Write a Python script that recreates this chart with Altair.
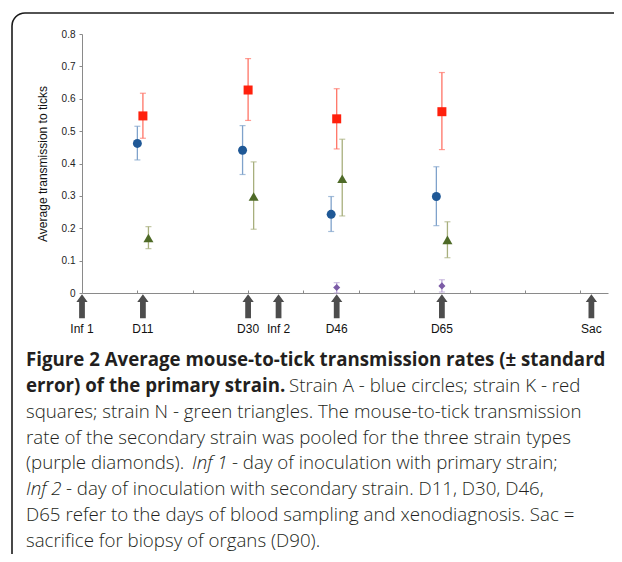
import altair as alt
import pandas as pd

# ---------------- data ----------------
blue_x = [10, 29, 45, 64]
blue_v = [0.462, 0.441, 0.243, 0.298]
blue_lo = [0.411, 0.366, 0.190, 0.208]
blue_hi = [0.515, 0.517, 0.298, 0.390]

red_x = [11, 30, 46, 65]
red_v = [0.547, 0.627, 0.538, 0.560]
red_lo = [0.478, 0.533, 0.445, 0.443]
red_hi = [0.617, 0.724, 0.631, 0.681]

green_x = [12, 31, 47, 66]
green_v = [0.170, 0.298, 0.353, 0.164]
green_lo = [0.137, 0.197, 0.238, 0.109]
green_hi = [0.205, 0.405, 0.475, 0.220]

purple_x = [46, 65]
purple_v = [0.017, 0.022]
purple_lo = [0.0, 0.003]
purple_hi = [0.032, 0.041]

event_labels = ["Inf 1", "D11", "D30", "Inf 2", "D46", "D65", "Sac"]
event_days = [0, 11, 30, 35.5, 46, 65, 92]

y_ticks = [0, 0.1, 0.2, 0.3, 0.4, 0.5, 0.6, 0.7, 0.8]
x_ticks = [10, 20, 30, 40, 50, 60, 70, 80, 90]

y_title = "Average transmission to ticks"

caption_bold = [
    "Figure 2 Average mouse-to-tick transmission rates (\u00b1 standard",
    "error) of the primary strain.",
]
caption_regular = [
    "Strain A - blue circles; strain K - red",
    "squares; strain N - green triangles. The mouse-to-tick transmission",
    "rate of the secondary strain was pooled for the three strain types",
    "(purple diamonds).",
    "- day of inoculation with primary strain;",
    "- day of inoculation with secondary strain. D11, D30, D46,",
    "D65 refer to the days of blood sampling and xenodiagnosis. Sac =",
    "sacrifice for biopsy of organs (D90).",
]
caption_italic = ["Inf 1", "Inf 2"]

# ---------------- layout ----------------
W, H = 526, 259
PAD = {"left": 74, "top": 26, "right": 6, "bottom": 261}
LINE0 = 331.8
LEAD = 25.9
CX = -56
FS = 18.7

def base_y(i):
    return LINE0 + LEAD * i

# (text, x, line index, weight, style)
segments = [
    (caption_bold[0], CX, 0, "bold", "normal"),
    (caption_bold[1], CX, 1, "bold", "normal"),
    (caption_regular[0], 207, 1, 300, "normal"),
    (caption_regular[1], CX, 2, 300, "normal"),
    (caption_regular[2], CX, 3, 300, "normal"),
    (caption_regular[3], CX, 4, 300, "normal"),
    (caption_italic[0], 110, 4, 300, "italic"),
    (caption_regular[4], 150, 4, 300, "normal"),
    (caption_italic[1], CX, 5, 300, "italic"),
    (caption_regular[5], -16, 5, 300, "normal"),
    (caption_regular[6], CX, 6, 300, "normal"),
    (caption_regular[7], CX, 7, 300, "normal"),
]

xscale = alt.Scale(domain=[0, 95], nice=False, zero=False)
yscale = alt.Scale(domain=[0, 0.8], nice=False)

xaxis = alt.Axis(orient="top", offset=-H, labels=False, values=x_ticks,
                 tickSize=3, domainColor="#8a8a8a", tickColor="#8a8a8a",
                 title=None, grid=False)
yaxis = alt.Axis(values=y_ticks, format=".1~f", tickSize=3, labelPadding=4,
                 labelOverlap=False,
                 labelFont="Liberation Sans", labelFontSize=10,
                 labelColor="#222222", domainColor="#8a8a8a",
                 tickColor="#8a8a8a", grid=False, title=y_title,
                 titleFont="Liberation Sans", titleFontSize=12,
                 titleFontWeight="normal", titleColor="#111111",
                 titlePadding=12)


def X(field):
    return alt.X(field, type="quantitative", scale=xscale, axis=xaxis)


def Y(field):
    return alt.Y(field, type="quantitative", scale=yscale, axis=yaxis)


series = [
    ("circle", blue_x, blue_v, blue_lo, blue_hi, "#1F5896", "#7FA2CB", 80),
    ("square", red_x, red_v, red_lo, red_hi, "#FF200C", "#FF7466", 81),
    ("triangle-up", green_x, green_v, green_lo, green_hi, "#4E6A27", "#A8AF7D", 100),
    ("diamond", purple_x, purple_v, purple_lo, purple_hi, "#7B5BA6", "#B9A5D5", 50),
]

dummy = pd.DataFrame({"d": [0]})

layers = []

# axes carrier (invisible points)
axis_df = pd.DataFrame({"day": [0, 95], "v": [0, 0.8]})
layers.append(alt.Chart(axis_df).mark_point(opacity=0).encode(x=X("day"), y=Y("v")))

# frame: top line, left line and rounded corner
FRAME = "#1a1a1a"
layers.append(alt.Chart(dummy).mark_rule(color=FRAME, strokeWidth=1.6).encode(
    x=alt.value(-57), x2=alt.value(800), y=alt.value(-21)))
layers.append(alt.Chart(dummy).mark_rule(color=FRAME, strokeWidth=1.6).encode(
    x=alt.value(-70), y=alt.value(-8), y2=alt.value(800)))
layers.append(alt.Chart(dummy).mark_arc(color=FRAME, radius=13.8, radius2=12.2,
                                        theta=4.7124, theta2=6.2832).encode(
    x=alt.value(-57), y=alt.value(-8)))

for shape, xs, vs, los, his, col, ecol, size in series:
    df = pd.DataFrame({"day": xs, "v": vs, "lo": los, "hi": his})
    b = alt.Chart(df)
    layers.append(b.mark_rule(color=ecol, strokeWidth=1.3).encode(
        x=X("day"), y=Y("lo"), y2="hi:Q"))
    layers.append(b.mark_tick(color=ecol, orient="horizontal", size=6, thickness=1.2).encode(
        x=X("day"), y=Y("lo")))
    layers.append(b.mark_tick(color=ecol, orient="horizontal", size=6, thickness=1.2).encode(
        x=X("day"), y=Y("hi")))
    layers.append(b.mark_point(shape=shape, filled=True, size=size, color=col, opacity=1).encode(
        x=X("day"), y=Y("v")))

# event arrows and labels
ev = pd.DataFrame({"day": event_days, "label": event_labels})
arrow_path = "M0,-1 L0.47,-0.36 L0.24,-0.36 L0.24,1 L-0.24,1 L-0.24,-0.36 L-0.47,-0.36 Z"
layers.append(
    alt.Chart(ev).mark_point(shape=arrow_path, filled=True, size=576, color="#4d4d4d",
                             opacity=1, clip=False).encode(
        x=X("day"), y=alt.value(272.2))
)
layers.append(
    alt.Chart(ev).mark_text(font="Liberation Sans", fontSize=12, color="#111111",
                            align="center", baseline="alphabetic").encode(
        x=X("day"), y=alt.value(298.5), text="label:N")
)

# caption
for text, x, li, weight, style in segments:
    layers.append(
        alt.Chart(dummy).mark_text(text=text, font="Open Sans", fontSize=FS,
                                   fontWeight=weight, fontStyle=style, color="#231f20",
                                   align="left", baseline="alphabetic").encode(
            x=alt.value(x), y=alt.value(base_y(li)))
    )

chart = alt.layer(*layers).properties(
    width=W, height=H, padding=PAD, autosize="none"
).configure_view(strokeWidth=0).configure_axis(grid=False, labelOverlap=False)

chart.save("out.html", embed_options={"renderer": "svg", "actions": False})
